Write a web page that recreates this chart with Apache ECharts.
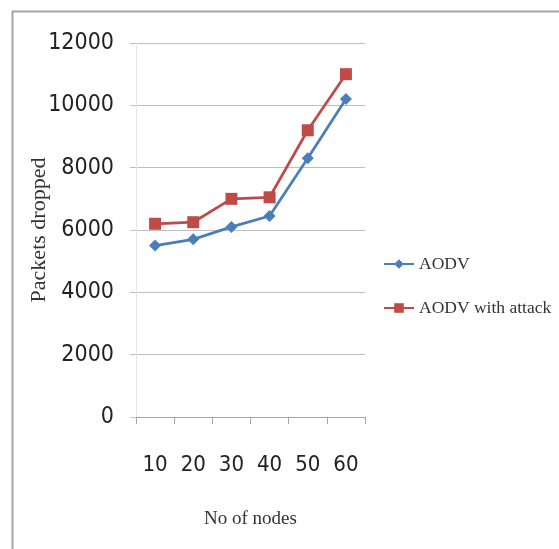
<!DOCTYPE html>
<html>
<head>
<meta charset="utf-8">
<script src="https://cdn.jsdelivr.net/npm/echarts@6/dist/echarts.min.js"></script>
<style>
  html, body { margin: 0; padding: 0; background: #fff; }
  #chart { width: 559px; height: 549px; }
</style>
</head>
<body>
<div id="chart"></div>
<script>
// Number of nodes in the network
const nodeCounts = ['10', '20', '30', '40', '50', '60'];
// Packets dropped by plain AODV
const aodvDropped = [5500, 5700, 6100, 6450, 8300, 10200];
// Packets dropped by AODV under attack
const aodvAttackDropped = [6200, 6250, 7000, 7050, 9200, 11000];
// Y axis range and step
const yMin = 0, yMax = 12000, yStep = 2000;

const narrow = "'DejaVu Sans Condensed', 'Liberation Sans Narrow', sans-serif";
const serif = "'Liberation Serif', 'DejaVu Serif', serif";

const chart = echarts.init(document.getElementById('chart'), null, { renderer: 'canvas' });
chart.setOption({
  animation: false,
  backgroundColor: '#ffffff',
  graphic: [{
    type: 'rect',
    left: 10, top: 9,
    shape: { width: 600, height: 600 },
    style: { fill: 'none', stroke: '#a6a6a6', lineWidth: 2 },
    silent: true, z: -10
  }],
  grid: { left: 136, right: 194, top: 43, bottom: 132, containLabel: false },
  legend: {
    orient: 'vertical',
    left: 378, top: 250,
    itemWidth: 30, itemHeight: 12, itemGap: 26,
    textStyle: { fontFamily: serif, fontSize: 17.5, color: '#333' },
    data: ['AODV', 'AODV with attack']
  },
  xAxis: {
    type: 'category',
    data: nodeCounts,
    boundaryGap: true,
    name: 'No of nodes',
    nameLocation: 'middle',
    nameGap: 93,
    nameMoveOverlap: false,
    nameTextStyle: { fontFamily: serif, fontSize: 19, color: '#333' },
    axisLine: { lineStyle: { color: '#a6a6a6', width: 1 } },
    axisTick: { show: true, length: 7, interval: 0, alignWithLabel: false, lineStyle: { color: '#a6a6a6' } },
    axisLabel: { interval: 0, fontFamily: narrow, fontSize: 22, color: '#222', margin: 37 },
    splitLine: { show: false }
  },
  yAxis: {
    type: 'value',
    min: yMin, max: yMax, interval: yStep,
    name: 'Packets dropped',
    nameLocation: 'middle',
    nameGap: 86,
    nameMoveOverlap: false,
    nameRotate: 90,
    nameTextStyle: { fontFamily: serif, fontSize: 22, color: '#333' },
    axisLine: { show: true, lineStyle: { color: '#e6e6e6', width: 1 } },
    axisTick: { show: true, length: 6, lineStyle: { color: '#bfbfbf' } },
    axisLabel: {
      fontFamily: narrow, fontSize: 23, color: '#222', margin: 22,
      formatter: v => String(v)
    },
    splitLine: { show: true, lineStyle: { color: '#bfbfbf', width: 1 } }
  },
  series: [
    {
      name: 'AODV',
      type: 'line',
      data: aodvDropped,
      symbol: 'diamond',
      symbolSize: 12,
      lineStyle: { color: '#4a7ebb', width: 2.75 },
      itemStyle: { color: '#4a7ebb' },
      z: 3
    },
    {
      name: 'AODV with attack',
      type: 'line',
      data: aodvAttackDropped,
      symbol: 'rect',
      symbolSize: 12,
      lineStyle: { color: '#be4b48', width: 2.75 },
      itemStyle: { color: '#be4b48' },
      z: 2
    }
  ]
});
</script>
</body>
</html>
